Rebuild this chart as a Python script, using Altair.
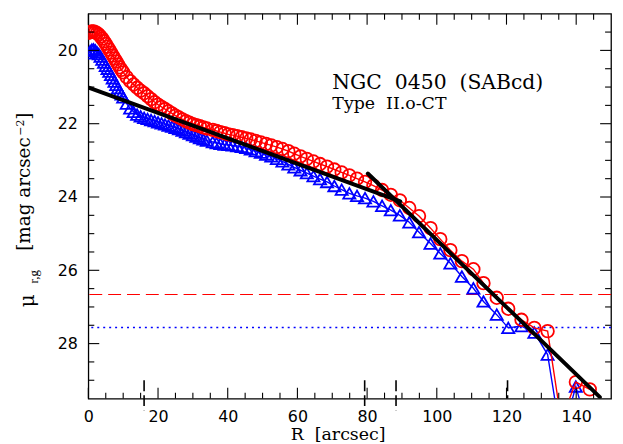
import altair as alt
import pandas as pd

# ---------------- data ----------------
R = [0, 0.5, 1, 1.5, 2, 2.5, 3, 3.5, 4, 4.5, 5, 5.5, 6, 6.5, 7, 7.5, 8, 8.5, 9, 9.5, 10,
     11, 12, 13, 14, 15, 16, 17, 18, 19, 20, 21, 22, 23, 24, 25, 26, 27, 28, 29, 30,
     31, 32, 33, 34,
     35.7, 36.8, 37.9, 39.1, 40.2, 41.4, 42.7, 44.0, 45.3, 46.6, 48.0, 49.5, 51.0, 52.5,
     54.1, 55.7, 57.4, 59.1, 60.9, 62.7, 64.6, 66.5, 68.5, 70.6, 72.7, 74.9, 77.1, 79.4,
     81.8, 84.3, 86.8, 89.4, 92.1,
     94.9, 98.2, 101.0, 103.9, 107.2, 110.5, 113.4, 117.2, 120.5, 124.3, 128.0, 131.8,
     135.7, 139.9, 143.9]

mu_r = [19.52, 19.50, 19.48, 19.48, 19.50, 19.53, 19.57, 19.62, 19.68, 19.75,
        19.82, 19.90, 19.98, 20.06, 20.14, 20.22, 20.30, 20.38, 20.46, 20.53,
        20.60,
        20.73, 20.84, 20.93, 21.02, 21.10, 21.17, 21.25, 21.33, 21.41, 21.48,
        21.54, 21.60, 21.66, 21.72, 21.78, 21.83, 21.88, 21.93, 21.97, 22.01,
        22.04, 22.07, 22.10, 22.13,
        22.17, 22.20, 22.23, 22.26, 22.29, 22.31, 22.34, 22.37, 22.40, 22.43,
        22.47, 22.51, 22.55, 22.59, 22.64, 22.69, 22.75, 22.82, 22.89, 22.96,
        23.03, 23.10, 23.17, 23.25, 23.33, 23.41, 23.50, 23.59, 23.69, 23.81,
        23.94, 24.09, 24.30,
        24.52, 24.85, 25.15, 25.45, 25.75, 25.97, 26.35, 26.75, 27.05, 27.35,
        27.57, 27.66, 30.10, 29.05, 29.25]

mu_g = [20.08, 20.02, 19.98, 19.97, 20.00, 20.05, 20.10, 20.17, 20.25, 20.33,
        20.42, 20.50, 20.58, 20.67, 20.76, 20.85, 20.94, 21.03, 21.12, 21.20,
        21.28,
        21.45, 21.58, 21.68, 21.75, 21.80, 21.84, 21.87, 21.90, 21.93, 21.96,
        21.99, 22.02, 22.05, 22.08, 22.11, 22.15, 22.19, 22.23, 22.27, 22.31,
        22.35, 22.39, 22.43, 22.46,
        22.50, 22.53, 22.55, 22.57, 22.58, 22.59, 22.61, 22.63, 22.66, 22.70,
        22.75, 22.79, 22.84, 22.89, 22.96, 23.03, 23.11, 23.19, 23.27, 23.35,
        23.43, 23.51, 23.59, 23.70, 23.80, 23.90, 23.97, 24.03, 24.12, 24.24,
        24.36, 24.50, 24.69,
        24.96, 25.27, 25.54, 25.81, 26.17, 26.49, 26.85, 27.21, 27.57, 27.52,
        27.70, 28.30, 30.60, 29.17, 30.50]

fit_in_R = [0.3, 89.5]
fit_in_mu = [21.02, 24.12]
fit_out_R = [80.2, 146.8]
fit_out_mu = [23.36, 29.46]

crit_r = [26.66]
crit_g = [27.56]

brk_R = [16.0, 79.3, 88.3, 120.3]
brk_top = [29.0, 29.0, 29.0, 29.0]
brk_bot = [29.82, 29.82, 29.82, 29.5]

x_major = [0, 20, 40, 60, 80, 100, 120, 140]
x_minor = [5, 10, 15, 25, 30, 35, 45, 50, 55, 65, 70, 75, 85, 90, 95,
           105, 110, 115, 125, 130, 135, 145]
y_major = [20, 22, 24, 26, 28]
y_minor = [19.5, 20.5, 21, 21.5, 22.5, 23, 23.5, 24.5, 25, 25.5, 26.5,
           27, 27.5, 28.5, 29]

W, H = 527, 388

# ---------------- scales / axes ----------------
xs = alt.Scale(domain=[0, 150], nice=False, zero=False)
ys = alt.Scale(domain=[19, 29.5], nice=False, zero=False, reverse=True)
XA = alt.Axis(values=x_major, ticks=False, domain=False, grid=False,
              labelFont="DejaVu Sans", labelFontSize=16, labelColor="black",
              labelPadding=10, labelFlush=False, labelOverlap=False, title=None)
YA = alt.Axis(values=y_major, ticks=False, domain=False, grid=False,
              labelFont="DejaVu Sans", labelFontSize=16, labelColor="black",
              labelPadding=11, labelOverlap=False, title=None)


def X(f):
    return alt.X(f, type="quantitative", scale=xs, axis=XA)


def Y(f):
    return alt.Y(f, type="quantitative", scale=ys, axis=YA)


df = pd.DataFrame({"R": R, "mu_r": mu_r, "mu_g": mu_g})

blue_line = alt.Chart(df).mark_line(color="#0000ff", strokeWidth=1.4, clip=True).encode(
    x=X("R"), y=Y("mu_g"))
blue_pts = alt.Chart(df).mark_point(shape="triangle-up", filled=False, color="#0000ff",
                                    size=150, strokeWidth=1.8, opacity=1, clip=True).encode(
    x=X("R"), y=Y("mu_g"))
red_line = alt.Chart(df).mark_line(color="#ff0000", strokeWidth=1.4, clip=True).encode(
    x=X("R"), y=Y("mu_r"))
red_pts = alt.Chart(df).mark_point(shape="circle", filled=False, color="#ff0000",
                                   size=160, strokeWidth=1.8, opacity=1, clip=True).encode(
    x=X("R"), y=Y("mu_r"))

fit_in = alt.Chart(pd.DataFrame({"R": fit_in_R, "mu": fit_in_mu})).mark_line(
    color="black", strokeWidth=4, strokeCap="round", clip=True).encode(x=X("R"), y=Y("mu"))
fit_out = alt.Chart(pd.DataFrame({"R": fit_out_R, "mu": fit_out_mu})).mark_line(
    color="black", strokeWidth=4, strokeCap="round", clip=True).encode(x=X("R"), y=Y("mu"))

crit_r_rule = alt.Chart(pd.DataFrame({"mu": crit_r})).mark_rule(
    color="#ff0000", strokeWidth=1.2, strokeDash=[13, 6]).encode(y=Y("mu"))
crit_g_rule = alt.Chart(pd.DataFrame({"mu": crit_g})).mark_rule(
    color="#0000ff", strokeWidth=1.4, strokeDash=[2, 4]).encode(y=Y("mu"))

brk = alt.Chart(pd.DataFrame({"R": brk_R, "t": brk_top, "b": brk_bot})).mark_rule(
    color="black", strokeWidth=1.6, strokeDash=[11, 4]).encode(
    x=X("R"), y=Y("t"), y2="b")

# tick marks (inside, all four sides)
dxM = pd.DataFrame({"v": x_major})
dxm = pd.DataFrame({"v": x_minor})
dyM = pd.DataFrame({"v": y_major})
dym = pd.DataFrame({"v": y_minor})
tk = dict(color="black", strokeWidth=1.1)
ticks = [
    alt.Chart(dxM).mark_rule(**tk).encode(x=X("v"), y=alt.value(H), y2=alt.value(H - 11)),
    alt.Chart(dxM).mark_rule(**tk).encode(x=X("v"), y=alt.value(0), y2=alt.value(11)),
    alt.Chart(dxm).mark_rule(**tk).encode(x=X("v"), y=alt.value(H), y2=alt.value(H - 6)),
    alt.Chart(dxm).mark_rule(**tk).encode(x=X("v"), y=alt.value(0), y2=alt.value(6)),
    alt.Chart(dyM).mark_rule(**tk).encode(y=Y("v"), x=alt.value(0), x2=alt.value(11)),
    alt.Chart(dyM).mark_rule(**tk).encode(y=Y("v"), x=alt.value(W), x2=alt.value(W - 11)),
    alt.Chart(dym).mark_rule(**tk).encode(y=Y("v"), x=alt.value(0), x2=alt.value(6)),
    alt.Chart(dym).mark_rule(**tk).encode(y=Y("v"), x=alt.value(W), x2=alt.value(W - 6)),
]


def label(text, x, y, size, font="DejaVu Serif", angle=0, style="normal"):
    kw = dict(align="left", baseline="alphabetic", font=font, fontSize=size,
              color="black", fontStyle=style)
    if angle:
        kw["angle"] = angle
    return alt.Chart(pd.DataFrame({"t": [text]})).mark_text(**kw).encode(
        x=alt.value(x), y=alt.value(y), text="t:N")


texts = [
    label("NGC\u00a0\u00a00450\u00a0\u00a0(SABcd)", 246, 76, 20.5),
    label("Type\u00a0\u00a0II.o-CT", 246, 96, 17.5),
    label("R\u00a0\u00a0[arcsec]", 204, 430, 17.5),
    label("\u03bc", -55, 296, 20, angle=270),
    label("r,g", -51, 272, 13, font="Liberation Serif", angle=270),
    label("[mag arcsec", -59, 239, 18.5, angle=270),
    label("\u22122", -65, 123, 11, angle=270),
    label("]", -59, 107, 18.5, angle=270),
]

chart = alt.layer(
    crit_r_rule, crit_g_rule,
    blue_line, blue_pts, red_line, red_pts,
    fit_in, fit_out, brk,
    *ticks, *texts,
).properties(
    width=W, height=H,
    padding={"left": 81, "top": 4, "right": 4, "bottom": 44},
    autosize=alt.AutoSizeParams(type="none"),
    background="white",
).configure_view(stroke="black", strokeWidth=1.3)

chart.save("out.html", embed_options={"renderer": "svg", "actions": False})
